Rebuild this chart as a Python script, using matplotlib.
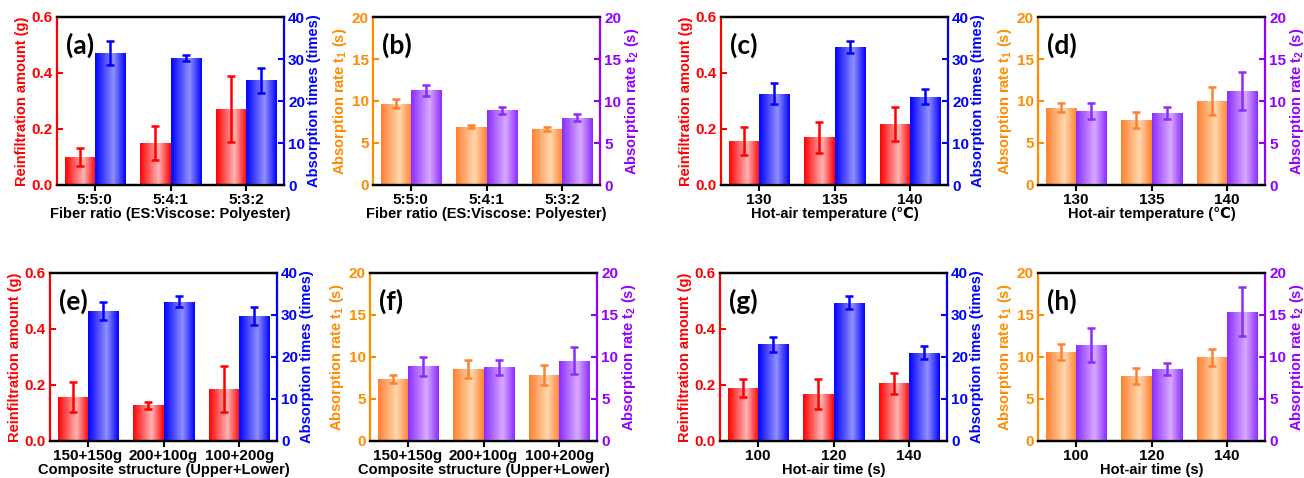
import numpy as np
import matplotlib.pyplot as plt
from matplotlib.colors import LinearSegmentedColormap

plt.rcParams['font.family'] = ['Liberation Sans', 'DejaVu Sans']
plt.rcParams['font.weight'] = 'bold'
plt.rcParams['axes.labelweight'] = 'bold'
plt.rcParams['mathtext.fontset'] = 'custom'
plt.rcParams['mathtext.rm'] = 'Liberation Sans:bold'
plt.rcParams['mathtext.default'] = 'rm'

RED, RED_L = '#ff0000', '#ffb4b4'
BLUE, BLUE_L = '#0000ff', '#9090ff'
ORANGE, ORANGE_L = '#ff8030', '#ffd8ae'
PURPLE, PURPLE_L = '#8a2cff', '#d8aaff'
ORANGE_T = '#ff8c00'
PURPLE_T = '#9400ff'

# ---- data ----
ratio_cats = ['5:5:0', '5:4:1', '5:3:2']
temp_cats = ['130', '135', '140']
struct_cats = ['150+150g', '200+100g', '100+200g']
time_cats = ['100', '120', '140']

# (a) fiber ratio
a_amount = [0.100, 0.150, 0.270]
a_amount_err = [0.033, 0.061, 0.118]
a_times = [31.5, 30.3, 24.9]
a_times_err = [2.9, 0.7, 3.0]
# (b)
b_t1 = [9.68, 6.96, 6.72]
b_t1_err = [0.53, 0.20, 0.24]
b_t2 = [11.3, 8.89, 7.98]
b_t2_err = [0.65, 0.43, 0.42]
# (c) hot-air temperature
c_amount = [0.158, 0.171, 0.219]
c_amount_err = [0.050, 0.055, 0.061]
c_times = [21.7, 32.9, 21.0]
c_times_err = [2.5, 1.5, 1.8]
# (d)
d_t1 = [9.21, 7.71, 10.0]
d_t1_err = [0.50, 0.95, 1.68]
d_t2 = [8.81, 8.54, 11.19]
d_t2_err = [0.90, 0.70, 2.25]
# (e) composite structure
e_amount = [0.156, 0.127, 0.185]
e_amount_err = [0.054, 0.014, 0.082]
e_times = [31.0, 33.2, 29.8]
e_times_err = [2.1, 1.4, 2.2]
# (f)
f_t1 = [7.38, 8.57, 7.86]
f_t1_err = [0.50, 1.05, 1.19]
f_t2 = [8.89, 8.77, 9.56]
f_t2_err = [1.13, 0.87, 1.62]
# (g) hot-air time
g_amount = [0.189, 0.168, 0.206]
g_amount_err = [0.031, 0.055, 0.037]
g_times = [23.0, 32.9, 21.0]
g_times_err = [1.7, 1.55, 1.55]
# (h)
h_t1 = [10.6, 7.70, 9.96]
h_t1_err = [1.00, 0.95, 1.00]
h_t2 = [11.4, 8.57, 15.4]
h_t2_err = [2.00, 0.70, 2.93]

xl_ratio = 'Fiber ratio (ES:Viscose: Polyester)'
xl_temp = 'Hot-air temperature (\u2103)'
xl_struct = 'Composite structure (Upper+Lower)'
xl_time = 'Hot-air time (s)'

panels = [
    ('(a)', ratio_cats, xl_ratio, 'amount', a_amount, a_amount_err, a_times, a_times_err),
    ('(b)', ratio_cats, xl_ratio, 'rate', b_t1, b_t1_err, b_t2, b_t2_err),
    ('(c)', temp_cats, xl_temp, 'amount', c_amount, c_amount_err, c_times, c_times_err),
    ('(d)', temp_cats, xl_temp, 'rate', d_t1, d_t1_err, d_t2, d_t2_err),
    ('(e)', struct_cats, xl_struct, 'amount', e_amount, e_amount_err, e_times, e_times_err),
    ('(f)', struct_cats, xl_struct, 'rate', f_t1, f_t1_err, f_t2, f_t2_err),
    ('(g)', time_cats, xl_time, 'amount', g_amount, g_amount_err, g_times, g_times_err),
    ('(h)', time_cats, xl_time, 'rate', h_t1, h_t1_err, h_t2, h_t2_err),
]

# axes boxes in pixels (left, top) of a 1304x478 canvas
W, H = 1304, 478
boxes = [(57, 17), (373, 17), (721, 17), (1038, 17),
         (50, 273), (370, 273), (720, 273), (1038, 273)]
bw, bh = 227, 168

grad = np.linspace(0, 1, 256).reshape(1, -1)


def grad_bars(ax, x, h, err, w, base, light):
    bars = ax.bar(x, h, w, align='edge', color=base, edgecolor=base,
                  linewidth=0.6, zorder=2)
    cmap = LinearSegmentedColormap.from_list('g', [(0, base), (0.6, light), (1, base)])
    for b in bars:
        x0 = b.get_x()
        im = ax.imshow(grad, cmap=cmap, aspect='auto', zorder=2.1,
                       extent=(x0, x0 + b.get_width(), 0, b.get_height()))
        im.set_clip_path(b)
    ax.errorbar(np.asarray(x) + w / 2, h, yerr=err, fmt='none', ecolor=base,
                elinewidth=1.8, capsize=3, capthick=1.8, zorder=3)


fig = plt.figure(figsize=(W / 100, H / 100), dpi=100)

for (tag, cats, xlabel, kind, lv, le, rv, re), (px, py) in zip(panels, boxes):
    ax = fig.add_axes([px / W, 1 - (py + bh) / H, bw / W, bh / H])
    ax2 = ax.twinx()
    x = np.arange(1, len(cats) + 1)
    w = 0.4
    if kind == 'amount':
        lc, ll, lt = RED, RED_L, RED
        rc, rl, rt = BLUE, BLUE_L, BLUE
        llab, rlab = 'Reinfiltration amount (g)', 'Absorption times (times)'
        lticks, rticks = [0, 0.2, 0.4, 0.6], [0, 10, 20, 30, 40]
        lfmt = ['0.0', '0.2', '0.4', '0.6']
    else:
        lc, ll, lt = ORANGE, ORANGE_L, ORANGE_T
        rc, rl, rt = PURPLE, PURPLE_L, PURPLE_T
        llab, rlab = r'Absorption rate t$_1$ (s)', r'Absorption rate t$_2$ (s)'
        lticks, rticks = [0, 5, 10, 15, 20], [0, 5, 10, 15, 20]
        lfmt = [str(t) for t in lticks]

    grad_bars(ax, x - w, lv, le, w, lc, ll)
    grad_bars(ax2, x, rv, re, w, rc, rl)

    ax.set_xlim(0.5, len(cats) + 0.5)
    ax.set_ylim(lticks[0], lticks[-1])
    ax2.set_ylim(rticks[0], rticks[-1])
    ax.set_yticks(lticks)
    ax.set_yticklabels(lfmt)
    ax2.set_yticks(rticks)
    ax.set_xticks(x)
    ax.set_xticklabels(cats)

    ax.tick_params(axis='x', direction='out', length=4, width=1.5, labelsize=11, pad=2)
    ax.tick_params(axis='y', direction='in', length=4, width=1.5, colors=lt,
                   labelsize=11, pad=3)
    ax2.tick_params(axis='y', direction='in', length=4, width=1.5, colors=rt,
                    labelsize=11, pad=3)
    for s in list(ax.spines.values()) + list(ax2.spines.values()):
        s.set_linewidth(1.6)
    ax.spines['left'].set_color(lt)
    ax.spines['right'].set_visible(False)
    ax.spines['top'].set_color('black')
    ax.spines['bottom'].set_color('black')
    ax2.spines['right'].set_color(rt)
    ax2.spines['left'].set_visible(False)
    ax2.spines['top'].set_color('black')
    ax2.spines['bottom'].set_color('black')

    ax.set_ylabel(llab, color=lt, fontsize=10.5, labelpad=2)
    ax2.set_ylabel(rlab, color=rt, fontsize=10.5, labelpad=1)
    ax.set_xlabel(xlabel, fontsize=10.5, labelpad=0)

    ax2.text(0.04, 0.83, tag, transform=ax.transAxes, fontsize=19,
             fontweight='bold', family=['Lato', 'DejaVu Sans'], va='center')

fig.savefig('out.png', dpi=100)
